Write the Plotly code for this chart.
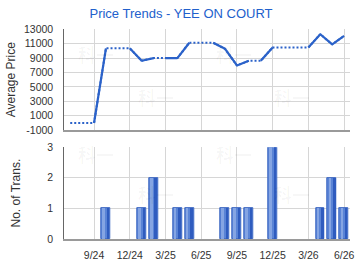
import plotly.graph_objects as go

months = ["7/24", "8/24", "9/24", "10/24", "11/24", "12/24", "1/25", "2/25", "3/25",
          "4/25", "5/25", "6/25", "7/25", "8/25", "9/25", "10/25", "11/25", "12/25",
          "1/26", "2/26", "3/26", "4/26", "5/26", "6/26"]
avg_price = [0, 0, 0, 10350, 10350, 10350, 8630, 9000, 9000,
             9000, 11130, 11130, 11130, 10280, 7980, 8620, 8620, 10480,
             10480, 10480, 10480, 12300, 10900, 12080]
# months where the segment into that month is solid
solid_end = [False, False, False, True, False, False, True, True, False,
             True, True, False, False, True, True, True, False, True,
             False, False, False, True, True, True]
trans = [0, 0, 0, 1, 0, 0, 1, 2, 0, 1, 1, 0, 0, 1, 1, 1, 0, 3, 0, 0, 0, 1, 2, 1]
tick_months = ["9/24", "12/24", "3/25", "6/25", "9/25", "12/25", "3/26", "6/26"]
price_ticks = [-1000, 1000, 3000, 5000, 7000, 9000, 11000, 13000]
trans_ticks = [0, 1, 2, 3]

LINE = "#2b62c9"
fig = go.Figure()

fig.add_trace(go.Scatter(x=months, y=avg_price, mode="lines",
                         line=dict(color=LINE, width=2, dash="2px,2px"),
                         xaxis="x", yaxis="y", hoverinfo="skip"))
sx, sy = [], []
for i in range(1, len(months)):
    if solid_end[i]:
        sx += [months[i - 1], months[i], None]
        sy += [avg_price[i - 1], avg_price[i], None]
fig.add_trace(go.Scatter(x=sx, y=sy, mode="lines", connectgaps=False,
                         line=dict(color=LINE, width=2.2),
                         xaxis="x", yaxis="y"))

bar_y = [v if v > 0 else None for v in trans]
fig.add_trace(go.Bar(x=months, y=bar_y, width=0.75, offset=-0.375,
                     marker=dict(color="#5a84d6", line=dict(color="#3e68c2", width=1)),
                     xaxis="x2", yaxis="y2"))
fig.add_trace(go.Bar(x=months, y=bar_y, width=0.22, offset=-0.28,
                     marker=dict(color="#85a5e3", line=dict(width=0)),
                     xaxis="x2", yaxis="y2"))
fig.add_trace(go.Bar(x=months, y=bar_y, width=0.16, offset=0.14,
                     marker=dict(color="#2f5cbf", line=dict(width=0)),
                     xaxis="x2", yaxis="y2"))

W, H = 360, 270
x0, x1 = 65 / W, 354 / W
tick_font = dict(family="Liberation Sans, Arial", size=10.5, color="#333333")
common_x = dict(type="category", categoryorder="array", categoryarray=months,
                range=[-0.5, len(months) - 0.5], tickmode="array", tickvals=tick_months,
                showgrid=True, gridcolor="#d6d6d6", gridwidth=1, ticks="",
                showline=True, linecolor="#9a9a9a", linewidth=2, zeroline=False,
                tickfont=tick_font)

fig.update_layout(
    width=W, height=H, margin=dict(l=0, r=0, t=0, b=0),
    paper_bgcolor="white", plot_bgcolor="white", showlegend=False,
    barmode="overlay", bargap=0,
    title=dict(text="Price Trends - YEE ON COURT", x=181 / W, xanchor="center",
               y=1 - 13 / H, yanchor="middle",
               font=dict(family="Liberation Sans, Arial", size=13, color="#2160cc")),
    xaxis=dict(common_x, domain=[x0, x1], anchor="y", showticklabels=False),
    yaxis=dict(domain=[1 - 130 / H, 1 - 24.3 / H], range=[-1000, 13000],
               tickmode="array", tickvals=price_ticks, ticktext=[str(v) for v in price_ticks],
               showgrid=True, gridcolor="#d6d6d6", gridwidth=1,
               showline=True, linecolor="#666666", linewidth=1, zeroline=False,
               ticks="", tickfont=tick_font, anchor="x", ticklabelstandoff=8,
               title=dict(text="Average Price", standoff=5,
                          font=dict(family="Liberation Sans, Arial", size=12, color="#333333"))),
    xaxis2=dict(common_x, domain=[x0, x1], anchor="y2", showticklabels=True,
                ticklabelstandoff=5),
    yaxis2=dict(domain=[1 - 244 / H, 1 - 147.7 / H], range=[0, 3],
                tickmode="array", tickvals=trans_ticks, ticktext=[str(v) for v in trans_ticks],
                showgrid=True, gridcolor="#d6d6d6", gridwidth=1,
                showline=True, linecolor="#666666", linewidth=1, zeroline=False,
                ticks="", tickfont=tick_font, anchor="x2", ticklabelstandoff=8,
                title=dict(text="No. of Trans.", standoff=24,
                           font=dict(family="Liberation Sans, Arial", size=12, color="#333333"))),
)

wm = [(77, 35), (237, 35), (158, 95), (316, 95), (77, 155), (237, 155), (158, 212), (316, 212)]
for (px, py) in wm:
    fig.add_annotation(text="<b>科一</b>", x=px / W, y=1 - py / H, xref="paper", yref="paper",
                       showarrow=False, font=dict(family="Noto Sans CJK SC", size=18,
                                                  color="rgba(0,0,0,0.035)"))

fig.write_html("out.html")
